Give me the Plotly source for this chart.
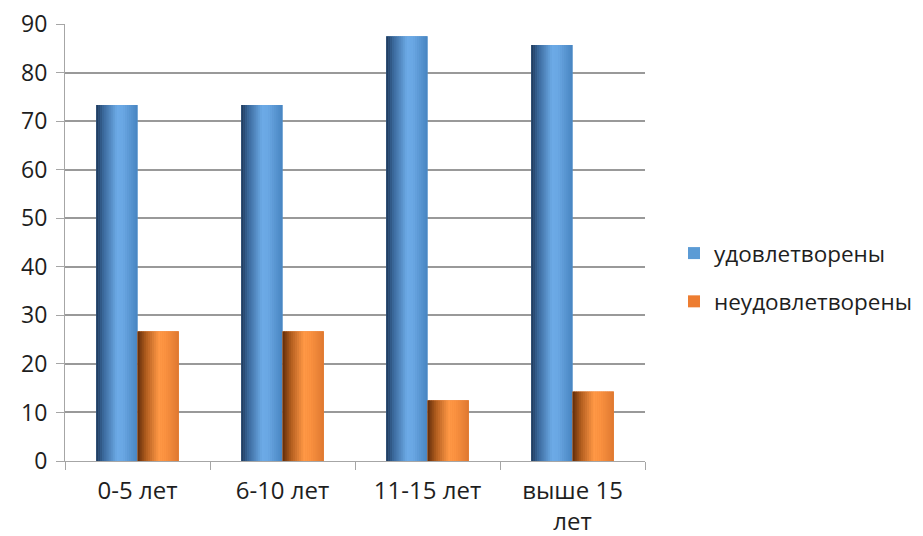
import plotly.graph_objects as go

categories = ["0-5 лет", "6-10 лет", "11-15 лет", "выше 15<br>лет"]
satisfied = [73.3, 73.3, 87.5, 85.7]
unsatisfied = [26.7, 26.7, 12.5, 14.3]
series_names = ["удовлетворены", "неудовлетворены"]
legend_colors = ["#5b9bd5", "#ed7d31"]
y_ticks = list(range(0, 100, 10))

# cylinder-like shading profiles (position, rgb)
profiles = [
    [(0.0, (30, 55, 88)), (0.18, (58, 104, 155)), (0.5, (108, 170, 230)),
     (0.65, (106, 168, 228)), (1.0, (72, 132, 192))],
    [(0.0, (96, 44, 10)), (0.2, (176, 92, 30)), (0.52, (255, 152, 70)),
     (0.68, (250, 146, 64)), (1.0, (222, 120, 48))],
]


def shade(profile, t):
    for (t0, c0), (t1, c1) in zip(profile, profile[1:]):
        if t <= t1:
            f = (t - t0) / (t1 - t0) if t1 > t0 else 0
            c = [round(a + (b - a) * f) for a, b in zip(c0, c1)]
            return "rgb(%d,%d,%d)" % tuple(c)
    return "rgb(%d,%d,%d)" % profile[-1][1]


fig = go.Figure()
bar_w = 0.285
n_stripes = 20
series = [satisfied, unsatisfied]
for s, vals in enumerate(series):
    start = -bar_w + s * bar_w
    fig.add_trace(go.Bar(
        x=categories, y=vals, name=series_names[s], legendgroup=series_names[s],
        marker=dict(color=legend_colors[s], line=dict(width=0)),
        width=bar_w, offset=start, hoverinfo="skip"))
    sw = bar_w / n_stripes
    for k in range(n_stripes):
        t = (k + 0.5) / n_stripes
        fig.add_trace(go.Bar(
            x=categories, y=vals, legendgroup=series_names[s], showlegend=False,
            marker=dict(color=shade(profiles[s], t), line=dict(width=0)),
            width=sw * 1.2 if k < n_stripes - 1 else sw, offset=start + k * sw,
            hoverinfo="skip"))

fig.update_layout(
    width=923, height=536,
    margin=dict(l=65, r=278, t=24, b=75, autoexpand=False),
    barmode="overlay",
    plot_bgcolor="white", paper_bgcolor="white",
    font=dict(family="Open Sans, Liberation Sans, sans-serif", size=24, color="#1e1e1e"),
    showlegend=True,
    legend=dict(x=1.05, y=0.42, xanchor="left", yanchor="middle",
                traceorder="grouped", tracegroupgap=16,
                font=dict(size=22.5, color="#1e1e1e"), itemwidth=30),
    xaxis=dict(type="category", showline=True, linecolor="#a6a6a6", linewidth=1,
               ticks="outside", tickson="boundaries", ticklen=8, tickcolor="#a6a6a6",
               showgrid=False, tickfont=dict(size=24), ticklabelstandoff=8,
               automargin=False),
    yaxis=dict(range=[0, 90], tickvals=y_ticks, showline=True, linecolor="#a6a6a6",
               linewidth=1, ticks="outside", ticklen=8, tickcolor="#a6a6a6",
               showgrid=True, gridcolor="#999999", gridwidth=2, zeroline=False,
               tickfont=dict(size=23), ticklabelstandoff=4, automargin=False,
               ticklabeloverflow="allow"),
)

fig.write_html("out.html", config={"displayModeBar": False},
               post_script="document.body.style.margin='0';document.body.style.overflow='hidden';")
